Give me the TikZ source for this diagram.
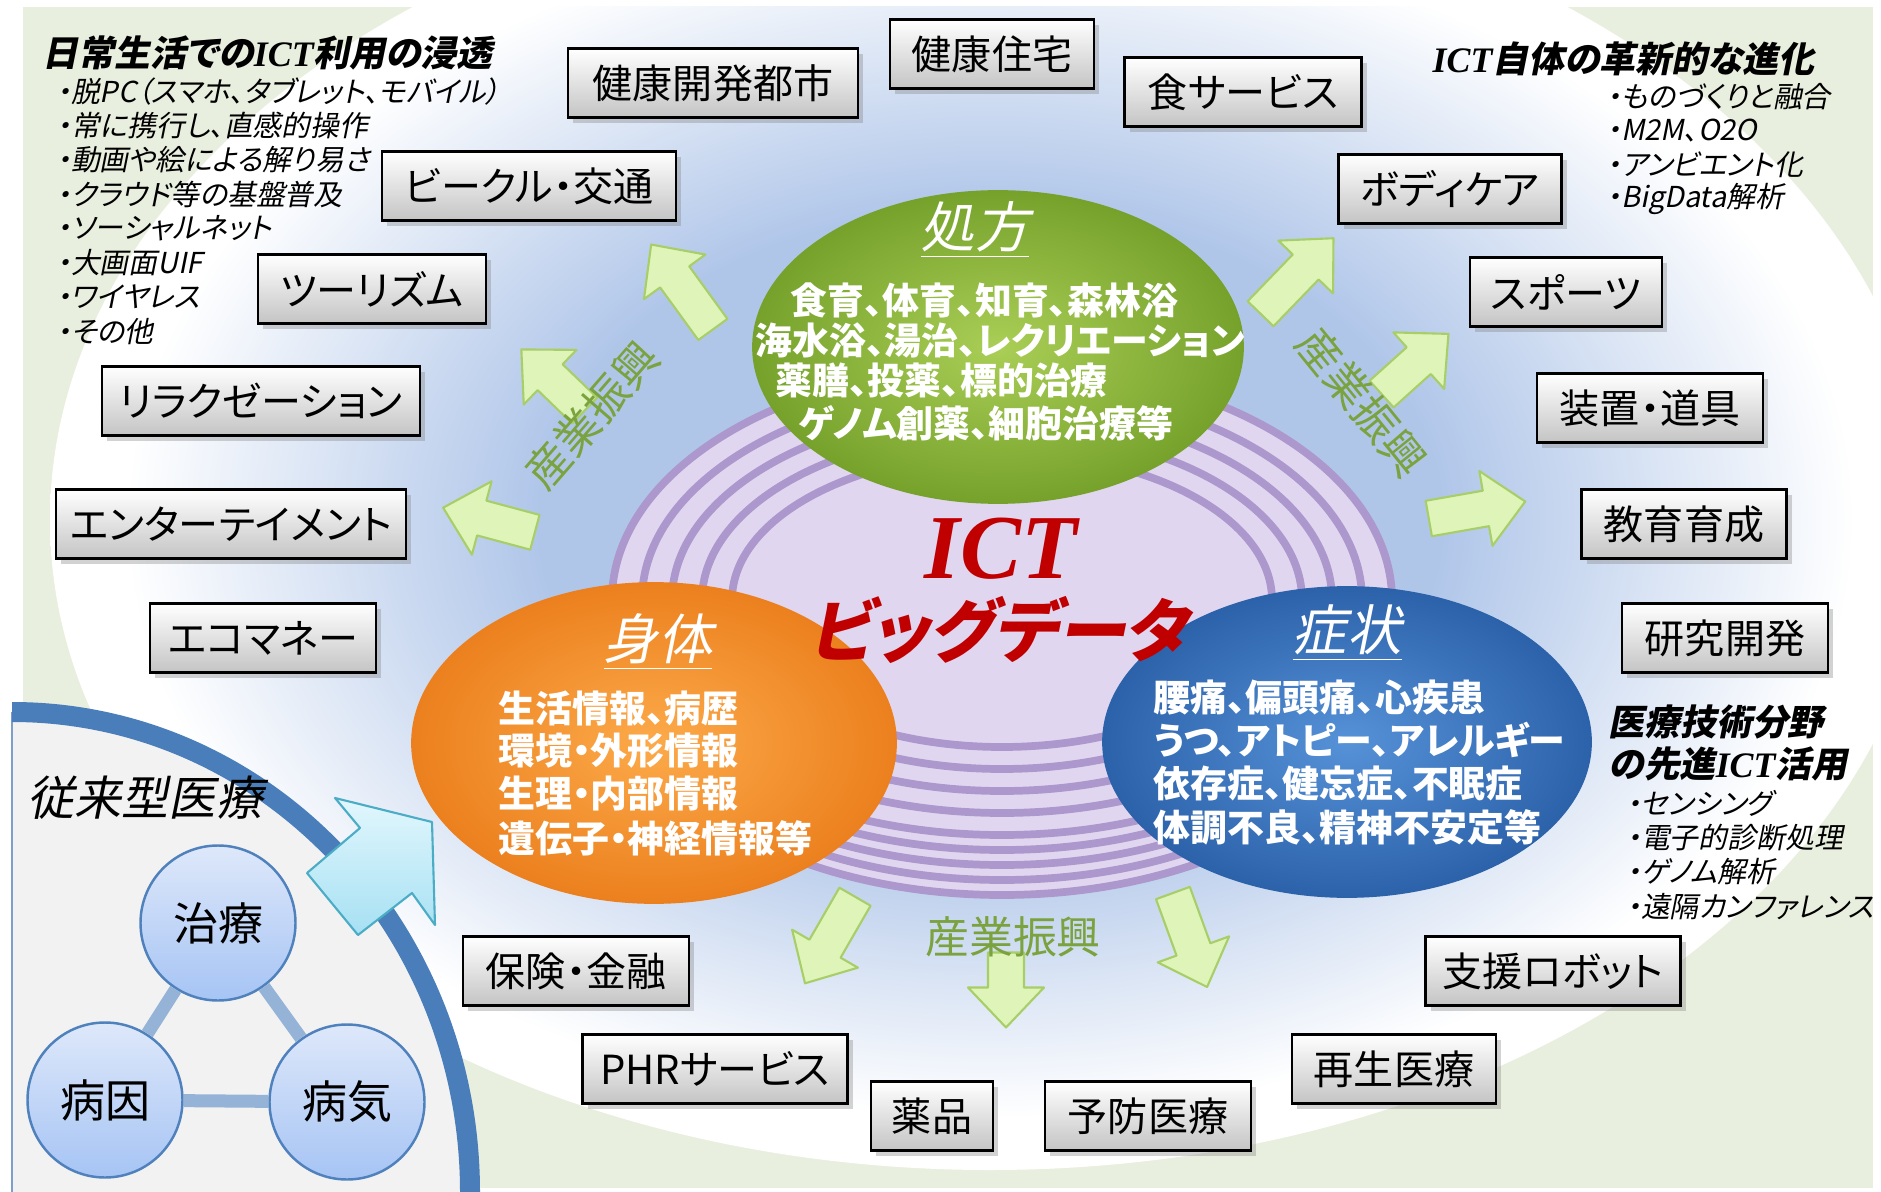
\documentclass[tikz,border=0pt]{standalone}
\usepackage{fontspec}
\usetikzlibrary{shapes.geometric,shadows}
\newfontfamily\jp[RawFeature=+palt]{Noto Sans CJK JP}
\newfontfamily\jpit[FakeSlant=0.2,RawFeature=+palt]{Noto Sans CJK JP}
\newfontfamily\ictfont{Liberation Serif}

\definecolor{bggreen}{RGB}{233,239,222}
\definecolor{bgblue}{RGB}{176,198,233}
\definecolor{diskfill}{RGB}{224,214,240}
\definecolor{diskedge}{RGB}{172,152,204}
\definecolor{greenin}{RGB}{170,206,86}
\definecolor{greenout}{RGB}{118,162,44}
\definecolor{orangein}{RGB}{252,170,74}
\definecolor{orangeout}{RGB}{236,128,30}
\definecolor{bluein}{RGB}{86,146,216}
\definecolor{blueout}{RGB}{44,98,170}
\definecolor{ictred}{RGB}{192,0,0}
\definecolor{boxgray}{RGB}{196,196,196}
\definecolor{arrowfill}{RGB}{222,244,184}
\definecolor{arrowedge}{RGB}{168,206,104}
\definecolor{boostgreen}{RGB}{122,162,62}
\definecolor{panelgray}{RGB}{242,242,242}
\definecolor{panelblue}{RGB}{74,126,187}
\definecolor{paneledge}{RGB}{127,159,203}
\definecolor{circtop}{RGB}{222,232,250}
\definecolor{circbot}{RGB}{166,196,244}
\definecolor{circedge}{RGB}{79,129,189}
\definecolor{linkblue}{RGB}{149,179,215}
\definecolor{cyantop}{RGB}{226,247,253}
\definecolor{cyanbot}{RGB}{166,224,243}
\definecolor{cyanedge}{RGB}{75,172,198}

\pgfdeclareradialshading{bgshade}{\pgfpoint{0bp}{0bp}}{color(0bp)=(bgblue); color(12bp)=(bgblue); color(23bp)=(white); color(25bp)=(white); color(50bp)=(white)}

\tikzset{
  itembox/.style={draw=black, line width=0.8pt, top color=white, bottom color=boxgray,
    inner sep=0pt, minimum height=6.9mm, font=\jp\fontsize{11.4}{13}\selectfont,
    drop shadow={shadow xshift=1.5pt, shadow yshift=-1.5pt, opacity=0.35}},
  bigell/.style={ellipse, inner sep=0pt, line width=0.5pt},
  elltitle/.style={font=\jpit\fontsize{15.5}{18}\selectfont, text=white, inner sep=0pt},
  ellbody/.style={font=\jp\bfseries\fontsize{10.5}{12}\selectfont, text=white, anchor=west, inner sep=0pt},
  sidehead/.style={font=\jpit\bfseries\fontsize{10.2}{12}\selectfont, anchor=west, inner sep=0pt},
  sideitem/.style={font=\jpit\fontsize{8.2}{9.8}\selectfont, anchor=west, inner sep=0pt},
  grarrow/.style={fill=arrowfill, draw=arrowedge, line width=0.6pt, line join=round},
  boostlabel/.style={font=\jp\fontsize{12.5}{14}\selectfont, text=boostgreen, inner sep=0pt},
  diskring/.style={draw=diskedge, line width=2.2pt},
  causecircle/.style={circle, minimum size=15.5mm, inner sep=0pt, draw=circedge, line width=0.7pt,
    top color=circtop, bottom color=circbot, font=\jp\fontsize{12.8}{14}\selectfont},
  causelink/.style={draw=linkblue, line width=3.7pt}
}

\begin{document}
\begin{tikzpicture}[x=0.1mm, y=-0.1mm]
    \useasboundingbox (0,0) rectangle (1881,1192);
    \fill[white] (0,0) rectangle (1881,1192);
    \fill[bggreen] (23,7) rectangle (1873,1188);
    \begin{scope}
        \clip (23,7) rectangle (1873,1188);
        \shade[shading=bgshade] (990,520) ellipse [x radius=940, y radius=650];
    \end{scope}

    % stacked disks under the big data label
    \foreach \k in {4,...,0}
        \draw[diskring, fill=diskfill] (1002,{600+15*\k}) ellipse [x radius=390, y radius=235];
    \foreach \k in {1,...,4}
        \draw[diskring] (1002,600) ellipse [x radius={390-30*\k}, y radius={235-22*\k}];

    \node[bigell, minimum width=49mm, minimum height=31.2mm, inner color=greenin, outer color=greenout, draw=greenout] (presc) at (998,347) {};
    \node[bigell, minimum width=48.4mm, minimum height=32mm, inner color=orangein, outer color=orangeout, draw=orangeout] (body) at (654,743) {};
    \node[bigell, minimum width=48.8mm, minimum height=31mm, inner color=bluein, outer color=blueout, draw=blueout] (sympt) at (1347,742) {};

    \node[elltitle] (presct) at (975,230) {\underline{処方}};
    \node[ellbody] (presc1) at (790,300) {食育、体育、知育、森林浴};
    \node[ellbody] (presc2) at (755,340) {海水浴、湯治、レクリエーション};
    \node[ellbody] (presc3) at (775,380) {薬膳、投薬、標的治療};
    \node[ellbody] (presc4) at (798,423) {ゲノム創薬、細胞治療等};

    \node[elltitle] (bodyt) at (658,642) {\underline{身体}};
    \node[ellbody] (body1) at (498,708) {生活情報、病歴};
    \node[ellbody] (body2) at (498,751) {環境・外形情報};
    \node[ellbody] (body3) at (498,794) {生理・内部情報};
    \node[ellbody] (body4) at (498,838) {遺伝子・神経情報等};

    \node[elltitle] (symptt) at (1347,633) {\underline{症状}};
    \node[ellbody] (sympt1) at (1153,698) {腰痛、偏頭痛、心疾患};
    \node[ellbody] (sympt2) at (1153,740) {うつ、アトピー、アレルギー};
    \node[ellbody] (sympt3) at (1153,783) {依存症、健忘症、不眠症};
    \node[ellbody] (sympt4) at (1153,827) {体調不良、精神不安定等};

    \node[font=\ictfont\bfseries\itshape\fontsize{26}{30}\selectfont, text=ictred] (ict) at (1001,549) {ICT};
    \node[font=\jpit\bfseries\fontsize{19.5}{22}\selectfont, text=ictred] (bigdata) at (998,630) {ビッグデータ};

    % industry boxes
    \node[itembox, minimum width=29mm] (healthcity) at (713,83) {健康開発都市};
    \node[itembox, minimum width=20.4mm] (healthhouse) at (992,54) {健康住宅};
    \node[itembox, minimum width=23.7mm] (food) at (1243,92) {食サービス};
    \node[itembox, minimum width=22.3mm] (bodycare) at (1450,189) {ボディケア};
    \node[itembox, minimum width=19.2mm] (sports) at (1566,292) {スポーツ};
    \node[itembox, minimum width=22.6mm] (device) at (1650,408) {装置・道具};
    \node[itembox, minimum width=20.5mm] (education) at (1684,524) {教育育成};
    \node[itembox, minimum width=20.6mm] (research) at (1725,638) {研究開発};
    \node[itembox, minimum width=25.5mm] (robot) at (1553,971) {支援ロボット};
    \node[itembox, minimum width=20.4mm] (regen) at (1394,1069) {再生医療};
    \node[itembox, minimum width=20.6mm] (prevent) at (1148,1116) {予防医療};
    \node[itembox, minimum width=12.2mm] (drugs) at (932,1116) {薬品};
    \node[itembox, minimum width=26.5mm] (phr) at (715,1069) {PHRサービス};
    \node[itembox, minimum width=22.6mm] (insurance) at (576,971) {保険・金融};
    \node[itembox, minimum width=22.6mm] (ecomoney) at (263,638) {エコマネー};
    \node[itembox, minimum width=35mm] (entertain) at (231,524) {エンターテイメント};
    \node[itembox, minimum width=31.8mm] (relax) at (261,401) {リラクゼーション};
    \node[itembox, minimum width=22.8mm] (tourism) at (372,289) {ツーリズム};
    \node[itembox, minimum width=29.4mm] (vehicle) at (529,186) {ビークル・交通};

    \foreach \ax/\ay/\ang/\len in {682/287/126/105, 553/380/136/88, 489/520/165/95,
        1297/276/46/105, 1415/364/42/90, 1477/510/10/98,
        830/940/240/100, 1006/990/270/75, 1190/940/290/100}
        \draw[grarrow, shift={(\ax,\ay)}, rotate=\ang] ({-\len/2},-18) -- ({\len/2-40},-18) -- ({\len/2-40},-38)
            -- ({\len/2},0) -- ({\len/2-40},38) -- ({\len/2-40},18) -- ({-\len/2},18) -- cycle;
    \node[boostlabel, rotate=49] (boostl) at (592,415) {産業振興};
    \node[boostlabel, rotate=-51] (boostr) at (1362,402) {産業振興};
    \node[boostlabel] (boostb) at (1013,937) {産業振興};

    % side notes
    \node[sidehead] (lifehead) at (42,53) {日常生活での{\ictfont\bfseries\itshape ICT}利用の浸透};
    \foreach \t [count=\i] in {・脱PC（スマホ、タブレット、モバイル）, ・常に携行し、直感的操作, ・動画や絵による解り易さ,
        ・クラウド等の基盤普及, ・ソーシャルネット, ・大画面UIF, ・ワイヤレス, ・その他}
        \node[sideitem] (life\i) at (56,{57+34.3*\i}) {\t};
    \node[sidehead] (evohead) at (1432,59) {{\ictfont\bfseries\itshape ICT}自体の革新的な進化};
    \foreach \t [count=\i] in {・ものづくりと融合, ・M2M、O2O, ・アンビエント化, ・BigData解析}
        \node[sideitem] (evo\i) at (1606,{62+34.3*\i}) {\t};
    \node[sidehead] (medhead) at (1608,722) {医療技術分野};
    \node[sidehead] (medhead2) at (1608,764) {の先進{\ictfont\bfseries\itshape ICT}活用};
    \foreach \t [count=\i] in {・センシング, ・電子的診断処理, ・ゲノム解析, ・遠隔カンファレンス}
        \node[sideitem] (med\i) at (1626,{768.5+34.5*\i}) {\t};

    % conventional medicine panel
    \fill[panelgray] (12,1192) -- (12,712) arc[start angle=-90, end angle=0, x radius=458, y radius=480] -- cycle;
    \draw[paneledge, line width=0.6pt] (12,712) -- (12,1192);
    \draw[panelblue, line width=2mm] (12,712) arc[start angle=-90, end angle=0, x radius=458, y radius=480];
    \node[font=\jpit\fontsize{13.4}{15}\selectfont, anchor=west, inner sep=0pt] (oldmed) at (27,798) {従来型医療};
    \node[causecircle] (cure) at (218,923) {治療};
    \node[causecircle] (cause) at (105,1100) {病因};
    \node[causecircle] (illness) at (347,1102) {病気};
    \draw[causelink] (cure) -- (cause);
    \draw[causelink] (cure) -- (illness);
    \draw[causelink] (cause) -- (illness);
    \shade[top color=cyantop, bottom color=cyanbot, draw=cyanedge, line width=0.6pt, line join=round]
        (307,873) -- (360,828) -- (335,798) -- (432,822) -- (435,925) -- (412,893) -- (358,935) -- cycle;
\end{tikzpicture}
\end{document}
